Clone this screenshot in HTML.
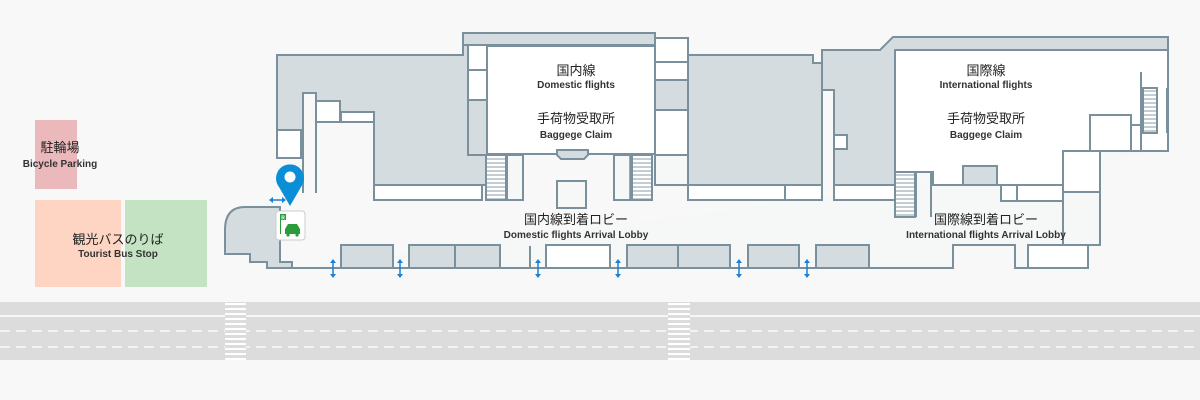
<!DOCTYPE html>
<html><head><meta charset="utf-8"><style>
html,body{margin:0;padding:0;background:#f8f8f8;}
svg{display:block}
text{font-family:"Liberation Sans","Noto Sans CJK JP",sans-serif;fill:#333;text-anchor:middle;font-weight:bold}
.j{font-size:13px;font-weight:normal;fill:#222}
.e{font-size:10px}
</style></head><body>
<svg width="1200" height="400" viewBox="0 0 1200 400" xmlns="http://www.w3.org/2000/svg">
<defs>
<pattern id="st" width="4" height="4" patternUnits="userSpaceOnUse"><rect width="4" height="4" fill="#fff"/><rect y="2.5" width="4" height="1" fill="#8a9ba6"/></pattern>
</defs>
<!-- road -->
<rect x="0" y="302" width="1200" height="58" fill="#dcdcdc"/>
<line x1="0" y1="316" x2="1200" y2="316" stroke="#fff" stroke-width="1.5"/>
<line x1="0" y1="331" x2="1200" y2="331" stroke="#fff" stroke-width="1.2" stroke-dasharray="10,6"/>
<line x1="0" y1="347" x2="1200" y2="347" stroke="#fff" stroke-width="1.2" stroke-dasharray="10,6"/>
<rect x="225" y="302" width="21" height="58" fill="#dcdcdc"/>
<rect x="668" y="302" width="22" height="58" fill="#dcdcdc"/>
<g stroke="#fff" stroke-width="2">
<path d="M225 304h21M225 309h21M225 314h21M225 319h21M225 324h21M225 329h21M225 334h21M225 339h21M225 344h21M225 349h21M225 354h21M225 359h21"/>
<path d="M668 304h22M668 309h22M668 314h22M668 319h22M668 324h22M668 329h22M668 334h22M668 339h22M668 344h22M668 349h22M668 354h22M668 359h22"/>
</g>
<!-- left areas -->
<rect x="35" y="120" width="42" height="69" fill="#ebb8bb"/>
<rect x="35" y="200" width="86" height="87" fill="#fdd5c2"/>
<rect x="125" y="200" width="82" height="87" fill="#c4e3c3"/>
<text x="60" y="152" class="j">駐輪場</text>
<text x="60" y="167" class="e">Bicycle Parking</text>
<text x="118" y="244" class="j">観光バスのりば</text>
<text x="118" y="257" class="e">Tourist Bus Stop</text>

<g stroke="#7a909d" stroke-width="2" stroke-linejoin="miter">
<!-- lobby floor outline -->
<path d="M292 268 H953 V245 H1015 V268 H1088 V245 H1100 V151 H1168" fill="#f6f7f7"/>
<!-- left blob -->
<path d="M245 207 H280 V262 H292 V268 H267 V262 H250 V254 H225 V230 Q225 207 245 207 Z" fill="#d5dce0"/>
<!-- left wing -->
<path d="M277 55 H463 V33 H488 V185 H374 V122 H316 V93 H303 V130 H277 Z" fill="#d5dce0"/>
<rect x="277" y="130" width="24" height="28" fill="#fff"/>
<rect x="316" y="101" width="24" height="21" fill="#fff"/>
<rect x="341" y="112" width="33" height="10" fill="#fff"/>
<line x1="303" y1="130" x2="303" y2="193"/>
<line x1="316" y1="122" x2="316" y2="193"/>
<rect x="374" y="185" width="108" height="15" fill="#fff"/>
<!-- domestic -->
<rect x="463" y="33" width="192" height="12" fill="#d5dce0"/>
<rect x="468" y="45" width="19" height="25" fill="#fff"/>
<rect x="468" y="70" width="19" height="30" fill="#fff"/>
<rect x="468" y="100" width="55" height="55" fill="#d5dce0"/>
<rect x="487" y="46" width="168" height="108" fill="#fff"/>
<path d="M557 150 H588 V155 L584 159 H561 L557 155 Z" fill="#d5dce0"/>
<rect x="486" y="155" width="20" height="45" fill="url(#st)"/>
<rect x="507" y="155" width="16" height="45" fill="#f6f7f7"/>
<rect x="614" y="155" width="17" height="45" fill="#f6f7f7"/>
<rect x="632" y="155" width="20" height="45" fill="url(#st)"/>
<rect x="557" y="181" width="29" height="27" fill="#f6f7f7"/>
<!-- right of domestic -->
<rect x="655" y="38" width="33" height="24" fill="#fff"/>
<rect x="655" y="62" width="33" height="18" fill="#fff"/>
<rect x="655" y="80" width="33" height="40" fill="#d5dce0"/>
<rect x="655" y="110" width="33" height="45" fill="#fff"/>
<rect x="655" y="155" width="33" height="30" fill="#f6f7f7"/>
<path d="M688 55 H813 V63 H822 V185 H688 Z" fill="#d5dce0"/>
<rect x="688" y="185" width="97" height="15" fill="#fff"/>
<rect x="785" y="185" width="37" height="15" fill="#fff"/>
<path d="M822 50 H880 L893 37 H1168 V50 H895 V185 H834 V90 H822 Z" fill="#d5dce0"/>
<rect x="834" y="135" width="13" height="14" fill="#fff"/>
<rect x="834" y="185" width="61" height="15" fill="#fff"/>
<!-- international -->
<path d="M895 50 H1168 V151 H1063 V185 H933 V172 H895 Z" fill="#fff"/>
<rect x="1063" y="151" width="37" height="41" fill="#fff"/>
<line x1="1063" y1="192" x2="1063" y2="245"/>
<rect x="963" y="166" width="34" height="19" fill="#d5dce0"/>
<rect x="1001" y="185" width="16" height="16" fill="#fff"/>
<rect x="1017" y="185" width="46" height="16" fill="#fff"/>
<rect x="1090" y="115" width="41" height="36" fill="#fff"/>
<rect x="1131" y="125" width="10" height="26" fill="#fff"/>
<rect x="1143" y="88" width="14" height="45" fill="url(#st)"/>
<rect x="895" y="172" width="20" height="45" fill="url(#st)"/>
<line x1="1141" y1="72" x2="1141" y2="133"/>
<line x1="1167" y1="88" x2="1167" y2="133"/>
<line x1="916" y1="172" x2="916" y2="217"/>
<line x1="931" y1="172" x2="931" y2="217"/>
<rect x="1028" y="245" width="60" height="23" fill="#fff"/>
<!-- bottom rooms -->
<rect x="341" y="245" width="52" height="23" fill="#d5dce0"/>
<rect x="409" y="245" width="46" height="23" fill="#d5dce0"/>
<rect x="455" y="245" width="45" height="23" fill="#d5dce0"/>
<line x1="530" y1="246" x2="530" y2="268"/>
<rect x="546" y="245" width="64" height="23" fill="#fff"/>
<rect x="627" y="245" width="51" height="23" fill="#d5dce0"/>
<rect x="678" y="245" width="52" height="23" fill="#d5dce0"/>
<rect x="748" y="245" width="51" height="23" fill="#d5dce0"/>
<rect x="816" y="245" width="53" height="23" fill="#d5dce0"/>
</g>
<g stroke="#7a909d" stroke-width="1.5">
<line x1="507" y1="155" x2="507" y2="200"/><line x1="523" y1="155" x2="523" y2="200"/>
<line x1="614" y1="155" x2="614" y2="200"/><line x1="630" y1="155" x2="630" y2="200"/>
</g>
<!-- arrows -->
<g stroke="#1a7fd6" stroke-width="1.5" fill="#1a7fd6">
<g id="ar"><line x1="333" y1="262" x2="333" y2="275"/><path d="M330 263 L333 259 L336 263Z M330 274 L333 278 L336 274Z" stroke="none"/></g>
<use href="#ar" x="67"/><use href="#ar" x="205"/><use href="#ar" x="285"/><use href="#ar" x="406"/><use href="#ar" x="474"/>
<line x1="272" y1="200" x2="283" y2="200"/><path d="M273 197 L269 200 L273 203Z M282 197 L286 200 L282 203Z" stroke="none"/>
</g>
<!-- pin -->
<path d="M290 206 L279 187 A14 14 0 1 1 301 187 Z" fill="#0a8fd6"/>
<circle cx="290" cy="177" r="5.5" fill="#fff"/>
<!-- taxi icon -->
<rect x="276" y="211" width="29" height="29" rx="3" fill="#fff" stroke="#ccc"/>
<rect x="280" y="214" width="6" height="6" fill="#2a9d3a"/>
<text x="283" y="219.5" style="font-size:5px;fill:#fff">R</text>
<line x1="280.5" y1="214" x2="280.5" y2="234" stroke="#2a9d3a" stroke-width="1"/>
<path d="M285 229 L288 224 H297 L300 229 V234 H285 Z" fill="#2a9d3a"/>
<circle cx="288" cy="235" r="1.6" fill="#2a9d3a"/><circle cx="297" cy="235" r="1.6" fill="#2a9d3a"/>
<!-- labels -->
<text x="576" y="75" class="j">国内線</text>
<text x="576" y="88" class="e">Domestic flights</text>
<text x="576" y="123" class="j">手荷物受取所</text>
<text x="576" y="138" class="e">Baggege Claim</text>
<text x="986" y="75" class="j">国際線</text>
<text x="986" y="88" class="e">International flights</text>
<text x="986" y="123" class="j">手荷物受取所</text>
<text x="986" y="138" class="e">Baggege Claim</text>
<text x="576" y="224" class="j">国内線到着ロビー</text>
<text x="576" y="238" class="e">Domestic flights Arrival Lobby</text>
<text x="986" y="224" class="j">国際線到着ロビー</text>
<text x="986" y="238" class="e">International  flights Arrival Lobby</text>
</svg>
</body></html>
